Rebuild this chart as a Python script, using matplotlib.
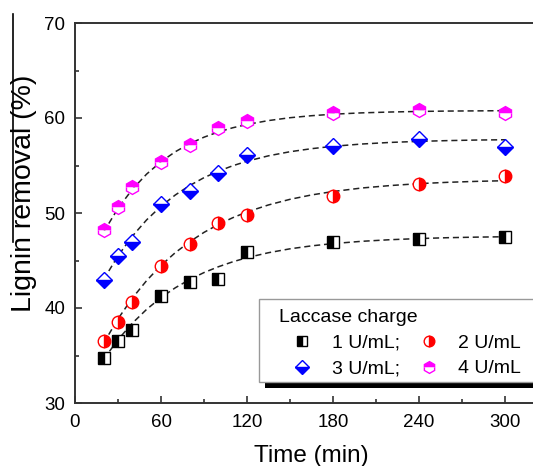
import matplotlib
matplotlib.use('Agg')
import matplotlib.pyplot as plt
from matplotlib.patches import Rectangle
from matplotlib.lines import Line2D
from matplotlib.transforms import IdentityTransform
from matplotlib.ticker import MultipleLocator

plt.rcParams['font.family'] = ['Liberation Sans', 'DejaVu Sans']

# Datos medidos
tiempo = [20, 30, 40, 60, 80, 100, 120, 180, 240, 300]
lac1 = [34.7, 36.5, 37.7, 41.3, 42.7, 43.1, 45.9, 47.0, 47.3, 47.5]
lac2 = [36.5, 38.5, 40.6, 44.4, 46.7, 49.0, 49.8, 51.8, 53.1, 53.9]
lac3 = [43.0, 45.5, 46.9, 50.9, 52.3, 54.2, 56.1, 57.1, 57.8, 57.0]
lac4 = [48.2, 50.6, 52.7, 55.4, 57.2, 59.0, 59.7, 60.5, 60.8, 60.5]

# Curvas de ajuste
t_ajuste = [20, 30, 40, 50, 60, 70, 80, 90, 100, 110, 120, 135, 150, 165, 180,
            200, 220, 240, 260, 280, 300]
ajuste1 = [34.6, 36.67, 38.4, 39.86, 41.1, 42.13, 43.0, 43.73, 44.34, 44.86, 45.3,
           45.82, 46.23, 46.54, 46.78, 47.02, 47.19, 47.31, 47.4, 47.46, 47.5]
ajuste2 = [36.3, 38.86, 41.04, 42.89, 44.48, 45.83, 46.97, 47.96, 48.79, 49.5, 50.11,
           50.85, 51.44, 51.9, 52.26, 52.63, 52.89, 53.09, 53.23, 53.33, 53.4]
ajuste3 = [43.0, 45.49, 47.56, 49.28, 50.71, 51.9, 52.89, 53.72, 54.4, 54.97, 55.45,
           56.02, 56.45, 56.77, 57.02, 57.26, 57.43, 57.54, 57.62, 57.68, 57.71]
ajuste4 = [48.0, 50.49, 52.49, 54.1, 55.4, 56.45, 57.3, 57.98, 58.53, 58.97, 59.32,
           59.73, 60.03, 60.24, 60.4, 60.54, 60.63, 60.69, 60.73, 60.75, 60.77]

etiquetas = ['1 U/mL;', '2 U/mL', '3 U/mL;', '4 U/mL']

fig = plt.figure(figsize=(5.33, 4.66), dpi=100)
ax = fig.add_axes([75/533, 63/466, 473/533, 380/466])

# Lineas de ajuste
for yfit in [ajuste1, ajuste2, ajuste3, ajuste4]:
    ax.plot(t_ajuste, yfit, linestyle=(0, (4, 2.5)), color='#222222', lw=1.1, zorder=2)

# Marcadores medio rellenos
h1, = ax.plot(tiempo, lac1, 's', ms=8.5, mew=1, mec='black', mfc='black',
              fillstyle='left', markerfacecoloralt='white', label=etiquetas[0], zorder=3)
h2, = ax.plot(tiempo, lac2, 'o', ms=9, mew=1, mec='red', mfc='red',
              fillstyle='right', markerfacecoloralt='white', label=etiquetas[1], zorder=3)
h3, = ax.plot(tiempo, lac3, 'D', ms=8, mew=1, mec='blue', mfc='blue',
              fillstyle='bottom', markerfacecoloralt='white', label=etiquetas[2], zorder=3)
h4, = ax.plot(tiempo, lac4, 'h', ms=10, mew=1, mec='magenta', mfc='magenta',
              fillstyle='top', markerfacecoloralt='white', label=etiquetas[3], zorder=3)

ax.set_xlim(0, 330)
ax.set_ylim(30, 70)
ax.xaxis.set_major_locator(MultipleLocator(60))
ax.xaxis.set_minor_locator(MultipleLocator(30))
ax.yaxis.set_major_locator(MultipleLocator(10))
ax.yaxis.set_minor_locator(MultipleLocator(5))
ax.tick_params(which='both', direction='in', top=False, right=False, colors='#333333',
               labelcolor='black', labelsize=13.5)
ax.tick_params(which='major', length=5, width=1.2)
ax.tick_params(which='minor', length=3, width=1.2)
ax.tick_params(axis='x', pad=8)
ax.tick_params(axis='y', pad=7)
for s in ax.spines.values():
    s.set_color('#333333')
    s.set_linewidth(1.4)

ax.set_xlabel('Time (min)', fontsize=17.5, labelpad=10)
ax.set_ylabel('Lignin removal (%)', fontsize=20.5)
ax.yaxis.set_label_coords(-0.080, 0.553)

# Leyenda (marco dibujado aparte)
leg = ax.legend([h1, h3, h2, h4], [etiquetas[0], etiquetas[2], etiquetas[1], etiquetas[3]],
                ncol=2, loc='upper left', bbox_to_anchor=(279/533, 1 - 309/466),
                bbox_transform=fig.transFigure, borderaxespad=0, fontsize=14,
                title='Laccase charge', title_fontsize=14, alignment='left',
                frameon=False, handlelength=2.4, handletextpad=0.3, columnspacing=0.3,
                labelspacing=0.4, borderpad=0, markerscale=0.85)
leg._legend_box.sep = 6
leg.set_zorder(5)

fig.canvas.draw()
bb = leg.get_window_extent()
x0 = bb.x0 - 20
y0 = bb.y0 - 5
w = bb.width + 60
h = bb.y1 + 10 - y0
sombra = Rectangle((x0 + 6, y0 - 6), w, h, facecolor='black', edgecolor='none',
                   transform=IdentityTransform(), zorder=4.5)
marco = Rectangle((x0, y0), w, h, facecolor='white', edgecolor='#999999', lw=1.0,
                  transform=IdentityTransform(), zorder=4.8)
ax.add_artist(sombra)
ax.add_artist(marco)

# Linea sobre la etiqueta del eje y
fig.add_artist(Line2D([13/533, 13/533], [1 - 14/466, 1 - 242/466], color='black', lw=1.2))

plt.savefig('out.png', dpi=100)
